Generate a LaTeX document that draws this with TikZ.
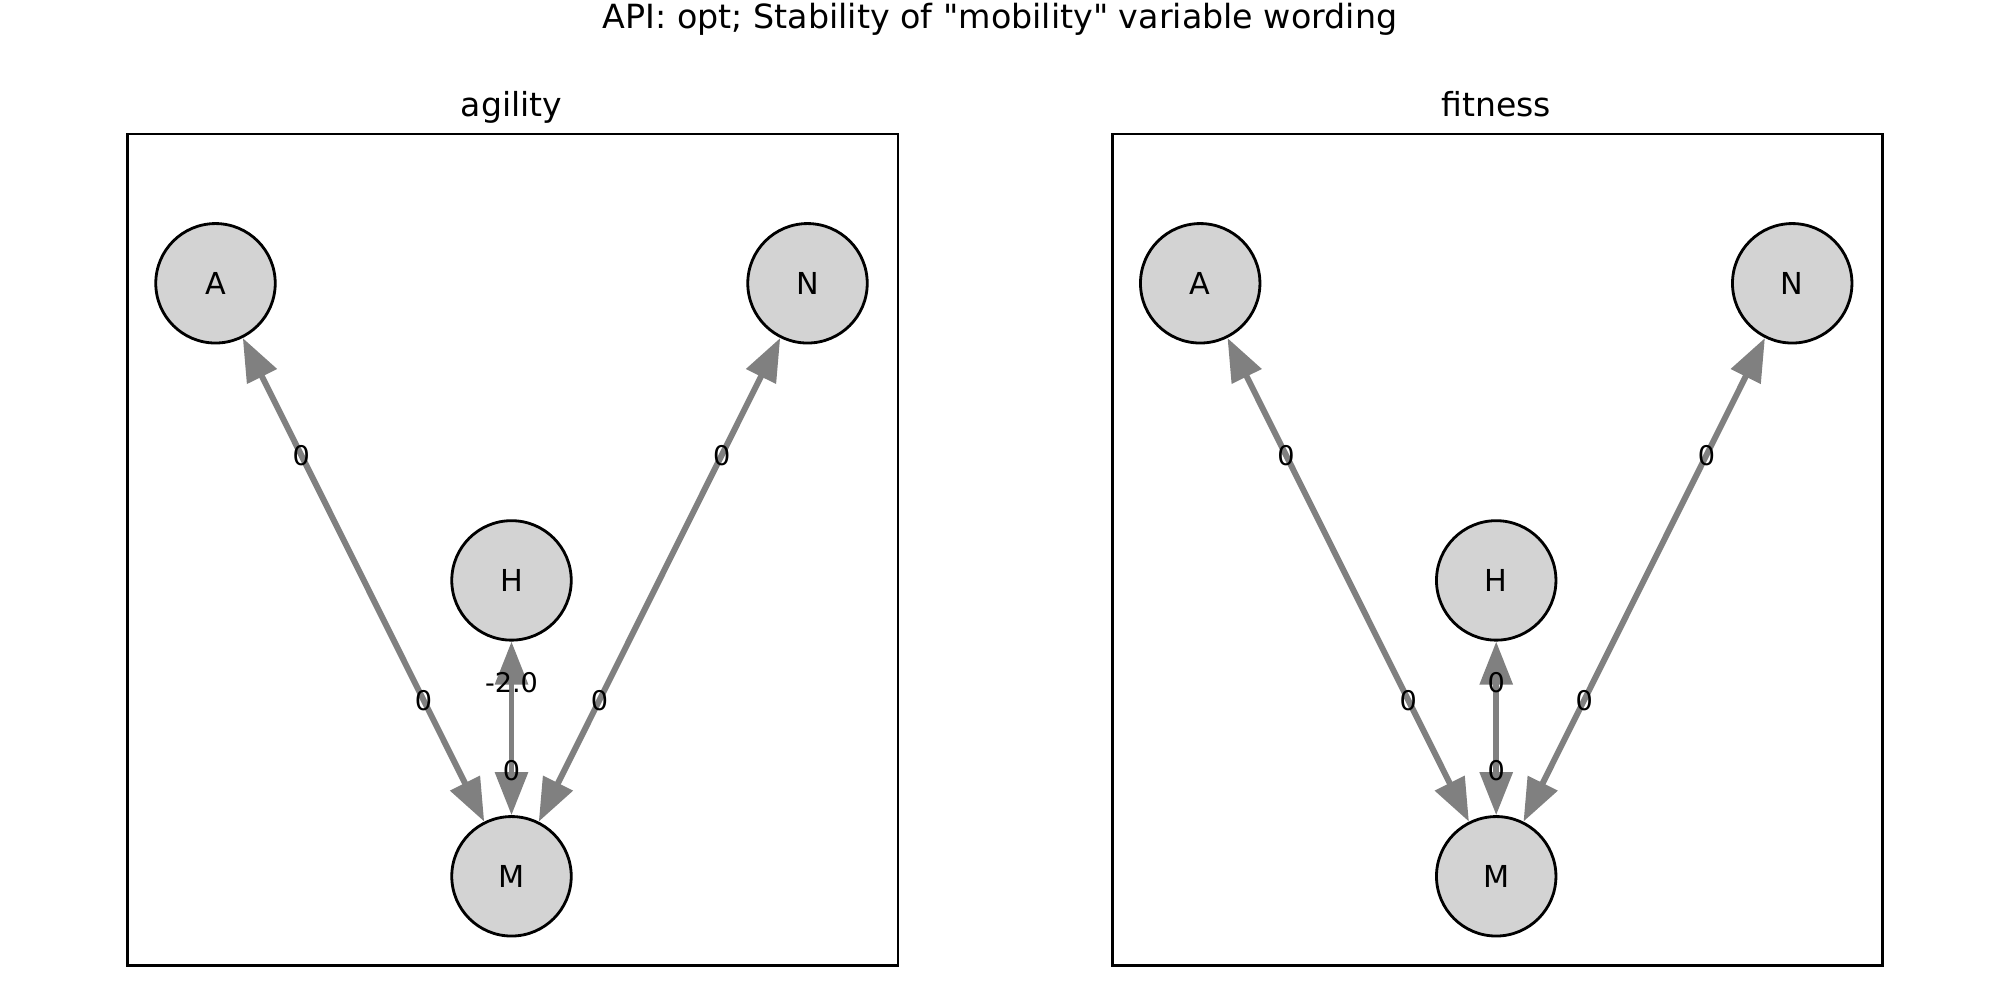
\documentclass[tikz,border=0pt]{standalone}
\usepackage{fontspec}
\setmainfont{DejaVu Sans}[Ligatures=TeXOff]
\usetikzlibrary{arrows.meta,calc}
\definecolor{edgegray}{HTML}{808080}
\definecolor{nodefill}{HTML}{D3D3D3}
\begin{document}
\begin{tikzpicture}[x=0.01cm,y=-0.01cm,
  vertex/.style={circle,draw=black,line width=0.8pt,fill=nodefill,
    minimum size=1.194cm,inner sep=0pt,outer sep=0.4pt,
    font=\fontsize{8.6}{10}\selectfont},
  link/.style={draw=edgegray,line width=1.7pt,
    {Triangle[length=0.43cm,width=0.32cm]}-{Triangle[length=0.43cm,width=0.32cm]}},
  weight/.style={inner sep=0pt,font=\fontsize{7.7}{9}\selectfont},
  frame/.style={draw=black,line width=0.8pt},
  paneltitle/.style={anchor=base,font=\fontsize{9.4}{11}\selectfont}]
\useasboundingbox (0,0) rectangle (2000,1000);

% figure title
\node[anchor=base,font=\fontsize{9.47}{11}\selectfont] (title) at (1000,28)
  {API: opt; Stability of "mobility" variable wording};

% two panels: horizontal offset / name suffix / panel title / weight on H<-M
\foreach \dx/\p/\ttl/\hw in {0/l/agility/-2.0, 984.7/r/fitness/0}{
  \draw[frame] (127.5+\dx,134) rectangle (898+\dx,965.5);
  \node[paneltitle] (t\p) at (511.5+\dx,116) {\ttl};

  \node[vertex] (A\p) at (215.5+\dx,283.3) {A};
  \node[vertex] (N\p) at (807.5+\dx,283.3) {N};
  \node[vertex] (H\p) at (511.5+\dx,580.4) {H};
  \node[vertex] (M\p) at (511.5+\dx,876.3) {M};

  \draw[link] (A\p) -- (M\p);
  \draw[link] (N\p) -- (M\p);
  \draw[link] (H\p) -- (M\p);

  \node[weight] (wam\p) at ($(A\p)!0.29!(M\p)$) {0};
  \node[weight] (wma\p) at ($(A\p)!0.703!(M\p)$) {0};
  \node[weight] (wnm\p) at ($(N\p)!0.29!(M\p)$) {0};
  \node[weight] (wmn\p) at ($(N\p)!0.703!(M\p)$) {0};
  \node[weight] (whm\p) at ($(H\p)!0.345!(M\p)$) {\hw};
  \node[weight] (wmh\p) at ($(H\p)!0.643!(M\p)$) {0};
}
\end{tikzpicture}
\end{document}
